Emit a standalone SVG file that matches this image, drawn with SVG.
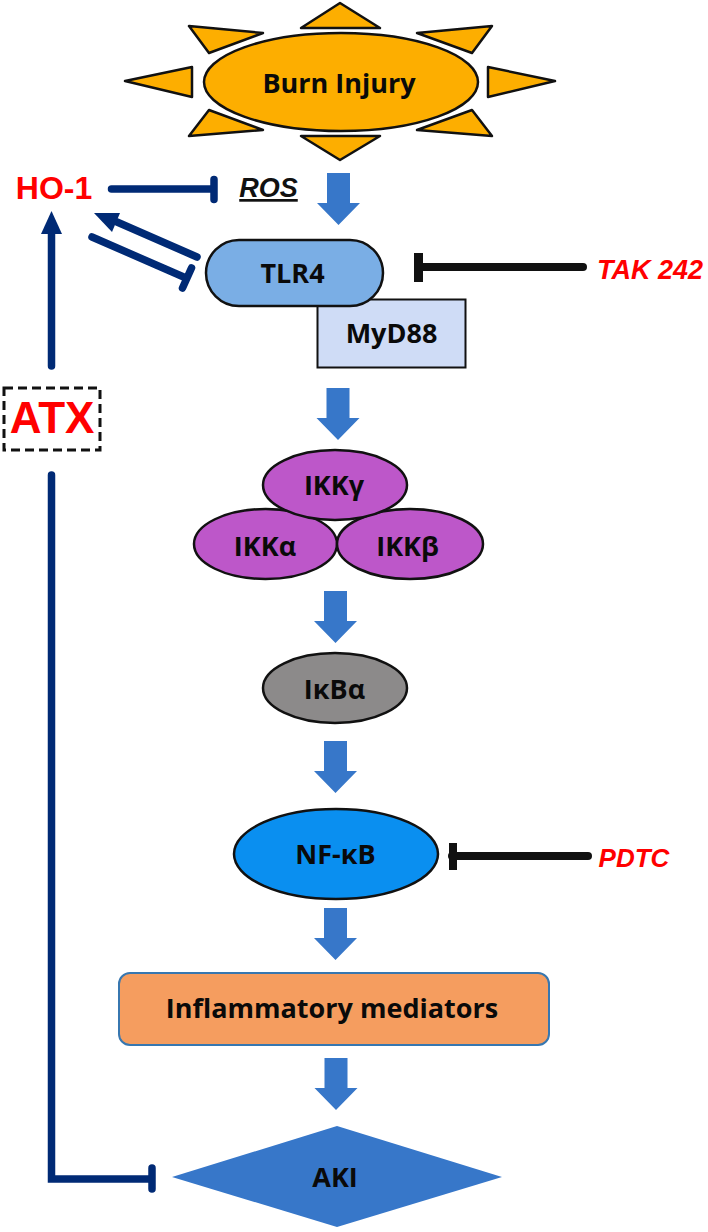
<svg xmlns="http://www.w3.org/2000/svg" width="708" height="1232" viewBox="0 0 708 1232">
<style>
.l{font-family:"Open Sans","Noto Sans","Liberation Sans",sans-serif;font-weight:700;fill:#0a0a0a;text-anchor:middle;font-size:27px}
.r{font-family:"Liberation Sans",Arial,sans-serif;font-weight:700;fill:#f00;text-anchor:middle}
.i{font-family:"Liberation Sans",Arial,sans-serif;font-weight:700;font-style:italic;text-anchor:middle}
.sun{fill:#fdae00;stroke:#111;stroke-width:2.500;stroke-linejoin:round}
.b{fill:#3777c9}
.c{fill:none;stroke:#002a75;stroke-width:7.500;stroke-linecap:round}
.k{fill:none;stroke:#111;stroke-width:8;stroke-linecap:round}
.kb{fill:#111}
.ik{fill:#bd57c9;stroke:#111;stroke-width:2.500}
</style>
<defs>
<path id="a" d="M-11.500 0H11.500V30H21.500L0 52L-21.500 30H-11.500Z"/>
</defs>
<g id="connectors">
<use href="#a" class="b" x="338.500" y="173"/>
<use href="#a" class="b" x="338" y="388"/>
<use href="#a" class="b" x="335.500" y="591"/>
<use href="#a" class="b" x="335.500" y="741"/>
<use href="#a" class="b" x="335.500" y="908"/>
<use href="#a" class="b" x="336" y="1058"/>
<path class="c" d="M111.500 189H214M214 179.500V199.500"/>
<path class="c" d="M197 257L117 222"/>
<path d="M94 213L120 213L112 232Z" fill="#002a75"/>
<path class="c" d="M92 237L186 278M191.500 268L182.500 288"/>
<path class="c" d="M51.500 366V228"/>
<path d="M51.500 211L62 234H41Z" fill="#002a75"/>
<path class="c" d="M51.500 475V1179H152M152 1168V1189"/>
<path class="k" d="M420 267H583"/>
<rect class="kb" x="414" y="253" width="9" height="29"/>
<path class="k" d="M452 856H588"/>
<rect class="kb" x="449" y="843" width="8" height="27"/>
</g>
<g id="burn"><path class="sun" d="M340 3L380 28H301Z"/><path class="sun" d="M189 26L263 33L209 53Z"/><path class="sun" d="M492 26L417 33L472 53Z"/><path class="sun" d="M125 81L192 67V97Z"/><path class="sun" d="M555 81L488 67V97Z"/><path class="sun" d="M189 136L263 130L209 110Z"/><path class="sun" d="M492 136L417 130L472 110Z"/><path class="sun" d="M340 160L301 136H380Z"/><ellipse class="sun" cx="341" cy="82" rx="137" ry="49"/><text class="l" x="339" y="93">Burn Injury</text></g>
<g id="ho1"><text class="r" x="54" y="198.500" font-size="32">HO-1</text></g>
<g id="ros"><text class="i" x="268.500" y="197" font-size="27" fill="#111" text-decoration="underline">ROS</text></g>
<g id="myd88"><rect x="317.500" y="299.500" width="148" height="68" fill="#cfdcf6" stroke="#111" stroke-width="2"/><text class="l" x="391.500" y="343">MyD88</text></g>
<g id="tlr4"><rect x="206" y="240" width="177" height="66" rx="33" fill="#7aaee5" stroke="#111" stroke-width="2.500"/><text class="l" x="292.500" y="283">TLR4</text></g>
<g id="tak"><text class="i" x="650" y="279" font-size="27" fill="#f00">TAK 242</text></g>
<g id="atx"><rect x="4" y="388" width="96" height="62" fill="none" stroke="#111" stroke-width="3" stroke-dasharray="9 5"/><text class="r" x="52" y="433" font-size="44">ATX</text></g>
<g id="ikka"><ellipse class="ik" cx="265.500" cy="544" rx="71.500" ry="35"/><text class="l" x="265" y="556">IKKα</text></g>
<g id="ikkb"><ellipse class="ik" cx="410" cy="544" rx="73" ry="35"/><text class="l" x="407.500" y="556">IKKβ</text></g>
<g id="ikkg"><ellipse class="ik" cx="335" cy="485" rx="72" ry="35"/><text class="l" x="334" y="495">IKKγ</text></g>
<g id="ikba"><ellipse cx="335" cy="688" rx="72" ry="35" fill="#8c8a8a" stroke="#111" stroke-width="2.500"/><text class="l" x="334.500" y="699">IκBα</text></g>
<g id="nfkb"><ellipse cx="336" cy="854" rx="102" ry="45" fill="#0a8ff0" stroke="#111" stroke-width="2.500"/><text class="l" x="335.500" y="864">NF-κB</text></g>
<g id="pdtc"><text class="i" x="634" y="867" font-size="26" fill="#f00">PDTC</text></g>
<g id="inflam"><rect x="119" y="973" width="430" height="72" rx="11" fill="#f59d5f" stroke="#3777b0" stroke-width="2"/><text class="l" x="332" y="1018">Inflammatory mediators</text></g>
<g id="aki"><path d="M337 1126L502 1177L337 1227L172 1177Z" fill="#3777c9"/><text class="l" x="335" y="1187">AKI</text></g>
</svg>
